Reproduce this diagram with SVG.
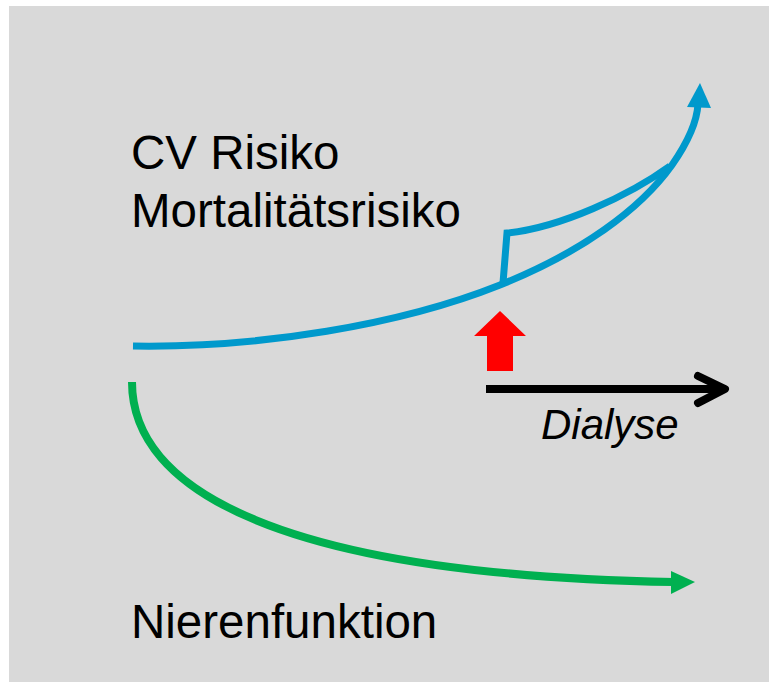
<svg xmlns="http://www.w3.org/2000/svg" width="769" height="682" viewBox="0 0 769 682">
<style>
.lbl{font-family:"Liberation Sans",Arial,sans-serif;font-size:47.5px;fill:#000}
.blue{fill:none;stroke:#0099CC;stroke-width:7}
.green{fill:none;stroke:#00B050;stroke-width:8}
</style>
<rect x="0" y="0" width="769" height="682" fill="#FFFFFF"/>
<rect x="9" y="6" width="760" height="676" fill="#D9D9D9"/>
<g id="connectors">
<path class="blue" d="M133,346 C260,348 400,325 500,285 C580,253 640,210 672,165 C688,142 697,122 698,104"/>
<path class="blue" d="M503,283 L507,233 C560,228 630,195 670,166" stroke-linejoin="miter"/>
<polygon points="700,83 687,107 711,108" fill="#0099CC"/>
<path class="green" d="M132,382 C132,490 280,575 674,582"/>
<polygon points="671,571 695,582 671,594" fill="#00B050"/>
<g id="dialyse-arrow">
<line x1="486" y1="389" x2="722" y2="389" stroke="#000" stroke-width="8"/>
<polyline points="698,376 725,389 698,403" fill="none" stroke="#000" stroke-width="8" stroke-linecap="round" stroke-linejoin="round"/>
</g>
<polygon id="red-arrow" points="500,311 474,336 487,336 487,371 513,371 513,336 526,336" fill="#FF0000"/>
</g>
<g id="label-cv"><text class="lbl" x="131" y="169">CV Risiko</text></g>
<g id="label-mort"><text class="lbl" x="131" y="227">Mortalitätsrisiko</text></g>
<g id="label-niere"><text class="lbl" x="131" y="638">Nierenfunktion</text></g>
<g id="label-dialyse"><text x="541" y="439" font-family="'Liberation Sans',Arial,sans-serif" font-size="42" font-style="italic" fill="#000">Dialyse</text></g>
</svg>
